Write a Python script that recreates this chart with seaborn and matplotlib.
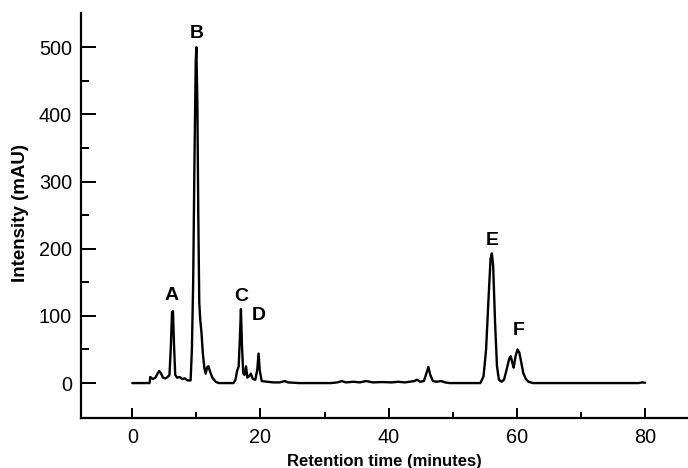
import matplotlib
matplotlib.use("Agg")
import matplotlib.pyplot as plt
import seaborn as sns
import pandas as pd
from matplotlib.ticker import MultipleLocator

# ---- data ----
time_min = [
    0, 2.7, 2.8, 3.2, 3.6, 4.0, 4.2, 4.5, 4.8, 5.2, 5.5, 5.8,
    6.0, 6.2, 6.35, 6.5, 6.7, 7.0, 7.4, 7.8, 8.2, 8.6, 9.1,
    9.3, 9.5, 9.7, 9.9, 10.0, 10.15, 10.3, 10.45, 10.6, 10.8, 11.0,
    11.25, 11.45, 11.7, 11.9, 12.1, 12.5, 13.0, 13.5,
    15.8, 16.1, 16.35, 16.6, 16.8, 16.95, 17.1, 17.3, 17.5, 17.75,
    17.95, 18.2, 18.5, 18.8, 19.2, 19.5, 19.7, 19.9, 20.2,
    21, 22, 23, 23.8, 24.3, 26,
    31, 32, 32.7, 33.3, 34.5, 35.5, 36.5, 37.5, 39, 40.5, 41.5, 42.5,
    43.3, 44.0, 44.4, 44.9, 45.5, 45.9, 46.2, 46.5, 46.9, 47.5, 48.2,
    48.8, 49.5,
    54.3, 54.8, 55.2, 55.6, 55.9, 56.1, 56.3, 56.6, 56.9, 57.2, 57.6,
    58.0, 58.4, 58.8, 59.05, 59.3, 59.5, 59.8, 60.1, 60.4, 60.7, 61.0,
    61.4, 61.8, 62.5,
    79, 79.5, 80,
]
intensity_mau = [
    0, 0, 9, 6, 8, 15, 18, 14, 8, 7, 9, 12,
    50, 105, 107, 60, 12, 8, 9, 6, 7, 4, 4,
    50, 150, 330, 480, 500, 420, 250, 120, 95, 75, 45,
    22, 14, 24, 25, 18, 8, 2, 0,
    0, 5, 18, 25, 70, 110, 60, 15, 12, 25,
    8, 10, 14, 6, 5, 20, 44, 18, 3,
    2, 1, 1, 3, 1, 0,
    0, 1, 3, 1, 2, 1, 3, 1, 1.5, 1, 2, 1,
    2, 3, 5, 2, 3, 15, 24, 12, 3, 2, 3,
    1, 0,
    0, 10, 50, 130, 185, 193, 175, 90, 25, 5, 2,
    5, 20, 36, 40, 30, 23, 40, 50, 45, 30, 15,
    6, 2, 0,
    0, 1, 0.5,
]
peak_labels = ["A", "B", "C", "D", "E", "F"]
peak_label_time = [6.2, 10.1, 17.0, 19.8, 56.1, 60.3]
peak_label_level = [131, 521, 129, 100, 213, 79]

df = pd.DataFrame({"time": time_min, "intensity": intensity_mau})

sns.set_theme(style="ticks")
plt.rcParams["font.family"] = ["Liberation Sans", "DejaVu Sans"]
plt.rcParams["text.color"] = "black"
plt.rcParams["axes.labelcolor"] = "black"

fig = plt.figure(figsize=(6.88, 4.68), dpi=100)
ax_left, ax_right, ax_bottom_px, ax_top_px = 81, 688, 418, 13
ax = fig.add_axes([ax_left / 688, (468 - ax_bottom_px) / 468,
                   (ax_right - ax_left) / 688, (ax_bottom_px - ax_top_px) / 468])

sns.lineplot(data=df, x="time", y="intensity", sort=False, estimator=None,
             color="black", linewidth=1.7, ax=ax)

for lab, t, lv in zip(peak_labels, peak_label_time, peak_label_level):
    ax.text(t, lv, lab, ha="center", va="center", fontsize=14,
            fontweight="bold", color="black")

ax.set_xlim(-8, 86.7)
ax.set_ylim(-52, 551)
ax.xaxis.set_major_locator(MultipleLocator(20))
ax.xaxis.set_minor_locator(MultipleLocator(10))
ax.set_yticks([0, 100, 200, 300, 400, 500])
ax.set_yticks([50, 150, 250, 350, 450], minor=True)

for side in ["top", "right"]:
    ax.spines[side].set_visible(False)
for side in ["left", "bottom"]:
    ax.spines[side].set_linewidth(1.6)
    ax.spines[side].set_color("black")

ax.tick_params(axis="y", which="major", direction="in", length=11, width=1.4,
               labelsize=14.3, pad=6.5, colors="black")
ax.tick_params(axis="y", which="minor", direction="in", length=6, width=1.4,
               colors="black")
ax.tick_params(axis="x", which="major", direction="in", length=7.5, width=1.4,
               labelsize=14.3, pad=7, colors="black")
ax.tick_params(axis="x", which="minor", direction="in", length=4.5, width=1.4,
               colors="black")

ax.set_xlabel("Retention time (minutes)", fontsize=12, fontweight="bold",
              labelpad=5.5, color="black")
ax.set_ylabel("Intensity (mAU)", fontsize=13.5, fontweight="bold",
              color="black")
ax.yaxis.set_label_coords((29 - ax_left) / (ax_right - ax_left), 0.505)

fig.savefig("out.png", dpi=100)
